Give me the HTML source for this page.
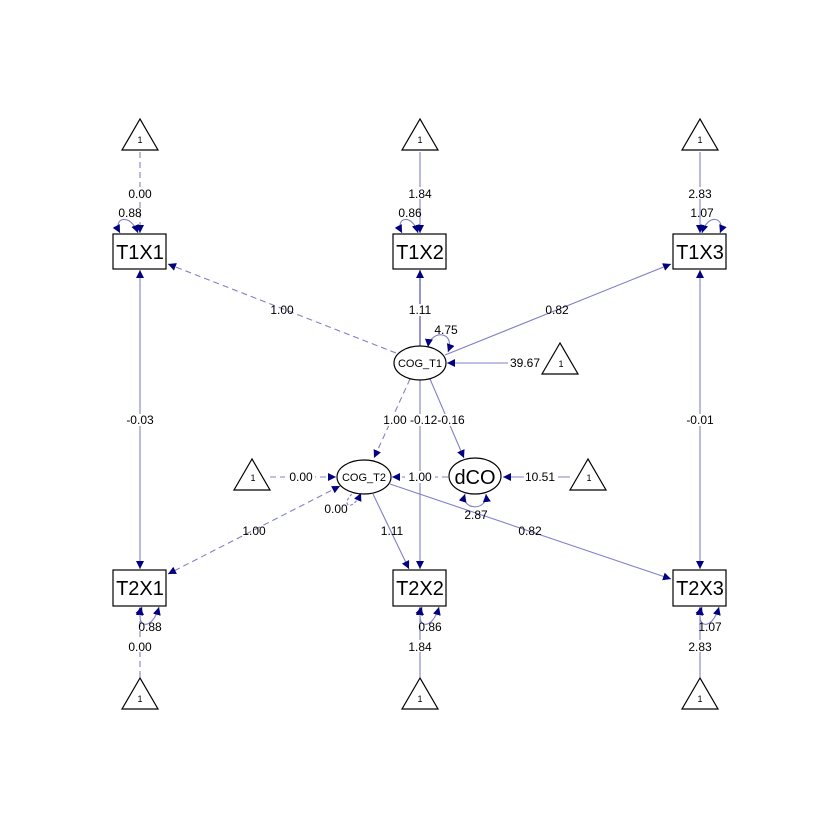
<!DOCTYPE html>
<html><head><style>html,body{margin:0;padding:0;background:#fff}svg{display:block}</style></head>
<body>
<svg width="840" height="840" xmlns="http://www.w3.org/2000/svg" font-family="Liberation Sans, Arial, sans-serif">
<defs>
<marker id="a" viewBox="0 0 10 10" refX="10" refY="5" markerWidth="8" markerHeight="8" markerUnits="userSpaceOnUse" orient="auto-start-reverse"><path d="M0,0 L10,5 L0,10 z" fill="#000080"/></marker>
</defs>
<rect width="840" height="840" fill="#fff"/>
<g stroke="#8080c8" stroke-width="1.1" fill="none">
<line x1="140" y1="152" x2="140" y2="233" stroke-dasharray="6,4" marker-end="url(#a)"/>
<line x1="420" y1="152" x2="420" y2="233" marker-end="url(#a)"/>
<line x1="700" y1="152" x2="700" y2="233" marker-end="url(#a)"/>
<line x1="140" y1="677" x2="140" y2="607" stroke-dasharray="6,4" marker-end="url(#a)"/>
<line x1="420" y1="677" x2="420" y2="607" marker-end="url(#a)"/>
<line x1="700" y1="677" x2="700" y2="607" marker-end="url(#a)"/>
<line x1="140" y1="270" x2="140" y2="569" marker-start="url(#a)" marker-end="url(#a)"/>
<line x1="700" y1="270" x2="700" y2="569" marker-start="url(#a)" marker-end="url(#a)"/>
<line x1="396" y1="353" x2="168" y2="264" stroke-dasharray="6,4" marker-end="url(#a)"/>
<line x1="420" y1="346" x2="420" y2="270" marker-end="url(#a)" stroke="#6a6ac0" stroke-width="1.4"/>
<line x1="445" y1="355" x2="671" y2="264" marker-end="url(#a)"/>
<line x1="541" y1="363" x2="447" y2="363" marker-end="url(#a)"/>
<line x1="420" y1="380" x2="420" y2="569" marker-end="url(#a)"/>
<line x1="410" y1="379" x2="374" y2="458" stroke-dasharray="6,4" marker-end="url(#a)"/>
<line x1="430" y1="379" x2="464" y2="458" marker-end="url(#a)"/>
<line x1="270" y1="477" x2="336" y2="477" stroke-dasharray="6,4" marker-end="url(#a)"/>
<line x1="448" y1="477" x2="392" y2="477" stroke-dasharray="6,4" marker-end="url(#a)"/>
<line x1="570" y1="477" x2="503" y2="477" marker-end="url(#a)"/>
<line x1="340" y1="486" x2="168" y2="574" stroke-dasharray="6,4" marker-start="url(#a)" marker-end="url(#a)"/>
<line x1="373" y1="494" x2="409" y2="569" marker-end="url(#a)"/>
<line x1="390" y1="484" x2="671" y2="579" marker-end="url(#a)"/>
<path d="M120,233 C112,218 130,212 138,233" marker-start="url(#a)" marker-end="url(#a)"/>
<path d="M402,233 C394,218 412,212 418,233" marker-start="url(#a)" marker-end="url(#a)"/>
<path d="M702,233 C708,212 726,218 720,233" marker-start="url(#a)" marker-end="url(#a)"/>
<path d="M142,607 C134,628 152,632 159,607" marker-start="url(#a)" marker-end="url(#a)"/>
<path d="M422,607 C414,628 432,632 439,607" marker-start="url(#a)" marker-end="url(#a)"/>
<path d="M702,607 C694,628 712,632 719,607" marker-start="url(#a)" marker-end="url(#a)"/>
<path d="M428,347 C430,330 456,330 448,352" marker-start="url(#a)" marker-end="url(#a)"/>
<path d="M352,494 C340,505 352,513 361,493" stroke-dasharray="3,2" marker-end="url(#a)"/>
<path d="M465,494 C460,510 488,512 486,494" marker-start="url(#a)" marker-end="url(#a)"/>
</g>
<g fill="#fff" stroke="#000" stroke-width="1.2">
<rect x="113" y="234" width="53" height="35"/>
<rect x="393" y="234" width="53" height="35"/>
<rect x="673" y="234" width="53" height="35"/>
<rect x="113" y="570" width="53" height="36"/>
<rect x="393" y="570" width="53" height="36"/>
<rect x="673" y="570" width="53" height="36"/>
<ellipse cx="420" cy="363" rx="26" ry="17"/>
<ellipse cx="364" cy="477" rx="27" ry="17"/>
<ellipse cx="475" cy="476" rx="26" ry="18"/>
<polygon points="140,119 122,150 158,150"/>
<polygon points="420,119 402,150 438,150"/>
<polygon points="700,119 682,150 718,150"/>
<polygon points="140,678 122,709 158,709"/>
<polygon points="420,678 402,709 438,709"/>
<polygon points="700,678 682,709 718,709"/>
<polygon points="560,343 542,374 578,374"/>
<polygon points="252,459 234,490 270,490"/>
<polygon points="588,459 570,490 606,490"/>
</g>
<g font-size="20" text-anchor="middle" fill="#000">
<text x="140" y="259">T1X1</text><text x="420" y="259">T1X2</text><text x="700" y="259">T1X3</text>
<text x="140" y="595">T2X1</text><text x="420" y="595">T2X2</text><text x="700" y="595">T2X3</text>
<text x="475" y="484" font-size="20">dCO</text>
</g>
<g font-size="11" text-anchor="middle" fill="#000">
<text x="420" y="367">COG_T1</text><text x="364" y="481">COG_T2</text>
<text x="140" y="143" font-size="9">1</text><text x="420" y="143" font-size="9">1</text><text x="700" y="143" font-size="9">1</text>
<text x="140" y="702" font-size="9">1</text><text x="420" y="702" font-size="9">1</text><text x="700" y="702" font-size="9">1</text>
<text x="561" y="367" font-size="9">1</text><text x="253" y="481" font-size="9">1</text><text x="589" y="481" font-size="9">1</text>
</g>
<g font-size="12" text-anchor="middle" fill="#000">
<rect x="125" y="187" width="30" height="12" fill="#fff"/><text x="140" y="198">0.00</text>
<rect x="405" y="187" width="30" height="12" fill="#fff"/><text x="420" y="198">1.84</text>
<rect x="685" y="187" width="30" height="12" fill="#fff"/><text x="700" y="198">2.83</text>
<text x="130" y="217">0.88</text><text x="410" y="217">0.86</text><text x="702" y="217">1.07</text>
<rect x="125" y="640" width="30" height="12" fill="#fff"/><text x="140" y="651">0.00</text>
<rect x="405" y="640" width="30" height="12" fill="#fff"/><text x="420" y="651">1.84</text>
<rect x="685" y="640" width="30" height="12" fill="#fff"/><text x="700" y="651">2.83</text>
<text x="150" y="631">0.88</text><text x="430" y="631">0.86</text><text x="710" y="631">1.07</text>
<rect x="125" y="414" width="30" height="12" fill="#fff"/><text x="140" y="424">-0.03</text>
<rect x="685" y="414" width="30" height="12" fill="#fff"/><text x="700" y="424">-0.01</text>
<text x="282" y="314">1.00</text>
<rect x="405" y="304" width="30" height="12" fill="#fff"/><text x="420" y="314">1.11</text>
<text x="557" y="314">0.82</text>
<text x="446" y="334">4.75</text>
<rect x="508" y="357" width="34" height="12" fill="#fff"/><text x="525" y="367">39.67</text>
<rect x="378" y="414" width="90" height="12" fill="#fff"/><text x="424" y="424">1.00 -0.12-0.16</text>
<rect x="285" y="471" width="30" height="12" fill="#fff"/><text x="301" y="481">0.00</text>
<rect x="405" y="471" width="30" height="12" fill="#fff"/><text x="420" y="481">1.00</text>
<rect x="524" y="471" width="34" height="12" fill="#fff"/><text x="540" y="481">10.51</text>
<text x="336" y="513">0.00</text>
<text x="476" y="519">2.87</text>
<text x="254" y="535">1.00</text>
<text x="392" y="535">1.11</text>
<text x="530" y="535">0.82</text>
</g>
</svg>
</body></html>
